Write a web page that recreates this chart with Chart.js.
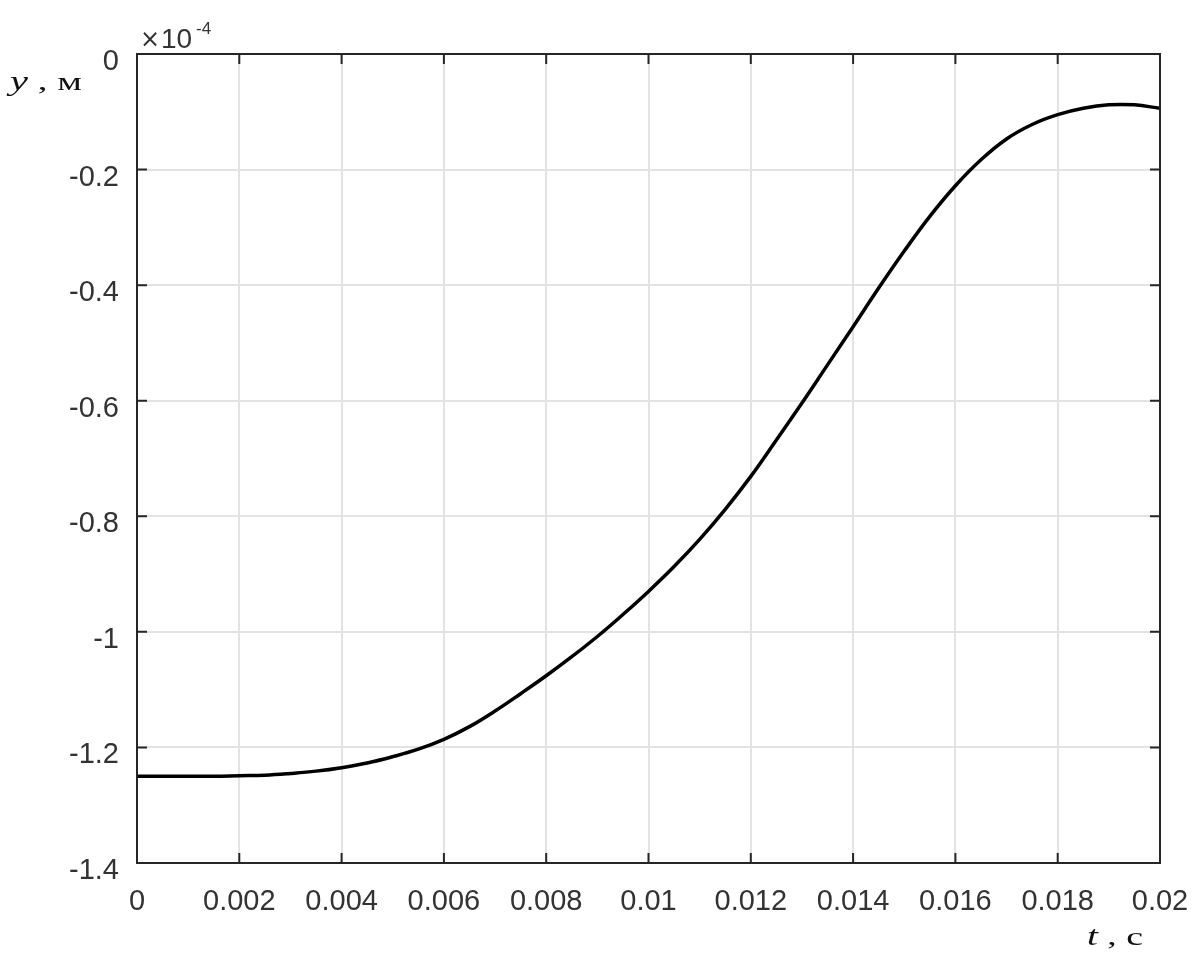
<!DOCTYPE html>
<html>
<head>
<meta charset="utf-8">
<script src="https://cdn.jsdelivr.net/npm/chart.js@4/dist/chart.umd.min.js"></script>
<style>
html,body{margin:0;padding:0;background:#fff;}
canvas{display:block;}
</style>
</head>
<body>
<canvas id="c" width="1201" height="961"></canvas>
<script>
// time, s
const tValues = [0,0.0005,0.001,0.0015,0.002,0.0025,0.003,0.0035,0.004,0.0045,0.005,0.0055,0.006,0.0065,0.007,0.0075,0.008,0.0085,0.009,0.0095,0.01,0.0105,0.011,0.0115,0.012,0.0125,0.013,0.0135,0.014,0.0145,0.015,0.0155,0.016,0.0165,0.017,0.0175,0.018,0.0185,0.019,0.0195,0.02];
// displacement y, ×10^-4 m
const yValues = [-1.25,-1.25,-1.25,-1.25,-1.249,-1.248,-1.245,-1.241,-1.235,-1.227,-1.216,-1.203,-1.186,-1.164,-1.137,-1.107,-1.076,-1.043,-1.008,-0.970,-0.930,-0.887,-0.840,-0.788,-0.731,-0.668,-0.604,-0.538,-0.472,-0.405,-0.341,-0.281,-0.228,-0.183,-0.147,-0.122,-0.105,-0.094,-0.088,-0.088,-0.094];
const xTickLabels = ['0','0.002','0.004','0.006','0.008','0.01','0.012','0.014','0.016','0.018','0.02'];
const yTickLabels = ['-1.4','-1.2','-1','-0.8','-0.6','-0.4','-0.2','0'];

const points = tValues.map((t,i)=>({x:t,y:yValues[i]}));
const axisColor = '#262626';
const labelColor = '#333333';

function stretchedText(ctx, parts, x, y, sx){
  ctx.save();
  ctx.translate(x, y);
  ctx.scale(sx, 1);
  let cx = 0;
  parts.forEach(p=>{
    ctx.font = p.font;
    ctx.fillText(p.text, cx, 0);
    cx += ctx.measureText(p.text).width;
  });
  ctx.restore();
}

const boxPlugin = {
  id:'box',
  afterDatasetsDraw(chart){
    const {ctx, chartArea:a, scales} = chart;
    ctx.save();
    ctx.strokeStyle = axisColor;
    ctx.lineWidth = 2;
    const tl = 10;
    ctx.beginPath();
    scales.x.ticks.forEach(tk=>{
      const px = scales.x.getPixelForValue(tk.value);
      ctx.moveTo(px,a.bottom); ctx.lineTo(px,a.bottom-tl);
      ctx.moveTo(px,a.top); ctx.lineTo(px,a.top+tl);
    });
    scales.y.ticks.forEach(tk=>{
      const py = scales.y.getPixelForValue(tk.value);
      ctx.moveTo(a.left,py); ctx.lineTo(a.left+tl,py);
      ctx.moveTo(a.right,py); ctx.lineTo(a.right-tl,py);
    });
    ctx.stroke();
    ctx.strokeRect(a.left, a.top, a.right-a.left, a.bottom-a.top);
    // exponent label
    ctx.fillStyle = labelColor;
    ctx.textBaseline = 'alphabetic';
    ctx.textAlign = 'left';
    ctx.font = '24px "DejaVu Sans", sans-serif';
    ctx.fillText('\u00d7', a.left+3, 47);
    ctx.font = '28px "Liberation Sans", Arial, sans-serif';
    ctx.fillText('10', a.left+24, 48);
    ctx.font = '17px "Liberation Sans", Arial, sans-serif';
    ctx.fillText('-4', a.left+59, 34);
    // axis titles
    ctx.fillStyle = '#111';
    const it = 'italic 27px "Liberation Serif", "Times New Roman", serif';
    const rg = '26px "Liberation Serif", "Times New Roman", serif';
    stretchedText(ctx, [{text:'y',font:it},{text:' , \u043c',font:rg}], 10, 90, 1.5);
    stretchedText(ctx, [{text:'t',font:it},{text:' , \u0441',font:rg}], 1087, 945, 1.45);
    ctx.restore();
  }
};

new Chart(document.getElementById('c'), {
  type:'line',
  data:{datasets:[{
    data:points,
    borderColor:'#000',
    borderWidth:3.5,
    pointRadius:0,
    fill:false,
    tension:0.4
  }]},
  options:{
    responsive:false,
    animation:false,
    events:[],
    layout:{padding:{left:0,right:41,top:54,bottom:0}},
    plugins:{legend:{display:false},tooltip:{enabled:false}},
    scales:{
      x:{
        type:'linear',
        min:0,max:0.02,
        afterFit(s){ s.height = 98; s.paddingLeft = 0; s.paddingRight = 0; },
        ticks:{
          stepSize:0.002,
          padding:22,
          color:labelColor,
          font:{family:'"Liberation Sans", Arial, sans-serif',size:29},
          callback:(v,i)=>xTickLabels[i]
        },
        grid:{color:'#e3e3e3',lineWidth:2,drawTicks:false},
        border:{display:false}
      },
      y:{
        type:'linear',
        min:-1.4,max:0,
        afterFit(s){ s.width = 137; s.paddingTop = 0; s.paddingBottom = 0; },
        ticks:{
          stepSize:0.2,
          padding:18,
          labelOffset:8,
          color:labelColor,
          font:{family:'"Liberation Sans", Arial, sans-serif',size:29},
          callback:(v,i)=>yTickLabels[i]
        },
        grid:{color:'#e3e3e3',lineWidth:2,drawTicks:false},
        border:{display:false}
      }
    }
  },
  plugins:[boxPlugin]
});
</script>
</body>
</html>
